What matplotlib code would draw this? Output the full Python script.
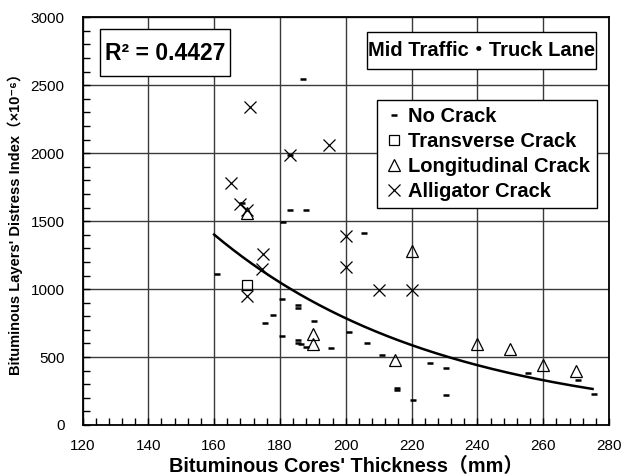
import numpy as np
import matplotlib
matplotlib.use('Agg')
import matplotlib.pyplot as plt
from matplotlib.patches import Rectangle
from matplotlib.ticker import MultipleLocator

plt.rcParams['font.family'] = ['Liberation Sans', 'DejaVu Sans', 'Noto Sans CJK JP']

# no crack points
no_crack_x = [187, 183, 188, 181, 168.5, 183, 205.5, 161, 180.5, 185.5, 185.5, 178,
              175.5, 190.5, 180.5, 185.5, 185.5, 186.5, 188, 195.5, 201, 206.5, 211,
              215.5, 215.5, 220.5, 225.5, 230.5, 230.5, 255.5, 270.5, 275.5]
no_crack_y = [2545, 1580, 1585, 1495, 1635, 1990, 1415, 1112, 928, 880, 863, 808,
              752, 767, 655, 625, 607, 595, 576, 568, 686, 600, 515,
              275, 255, 184, 458, 420, 222, 380, 331, 230]

trans_x = [170]
trans_y = [1030]

long_x = [170, 190, 190, 220, 215, 240, 250, 260, 270]
long_y = [1558, 667, 595, 1283, 475, 595, 558, 441, 399]

allig_x = [165, 171, 168, 170, 183, 195, 175, 174.5, 170, 200, 200, 210, 220]
allig_y = [1782, 2340, 1625, 1585, 1985, 2058, 1258, 1145, 950, 1390, 1165, 997, 995]

# exponential trendline
trend_a = 14190
trend_b = -0.01447
trend_range = (160, 275)
r2_text = 'R² = 0.4427'

fig = plt.figure(figsize=(6.22, 4.75), dpi=100)
ax = fig.add_axes([82.5/622, 1-425/475, (609-82.5)/622, (425-17.3)/475])

tx = np.linspace(trend_range[0], trend_range[1], 200)
ax.plot(tx, trend_a*np.exp(trend_b*tx), color='k', lw=1.8, zorder=3)

ax.plot(no_crack_x, no_crack_y, ls='none', marker='_', ms=5, mew=1.8, color='k',
        label='No Crack', zorder=4)
ax.plot(trans_x, trans_y, ls='none', marker='s', ms=7.5, mew=0.9, mfc='none', mec='k',
        label='Transverse Crack', zorder=4)
ax.plot(long_x, long_y, ls='none', marker='^', ms=8.5, mew=0.9, mfc='none', mec='k',
        label='Longitudinal Crack', zorder=4)
ax.plot(allig_x, allig_y, ls='none', marker='x', ms=8.5, mew=0.9, color='k',
        label='Alligator Crack', zorder=4)

ax.set_xlim(120, 280)
ax.set_ylim(0, 3000)
ax.xaxis.set_major_locator(MultipleLocator(20))
ax.xaxis.set_minor_locator(MultipleLocator(4))
ax.yaxis.set_major_locator(MultipleLocator(500))
ax.yaxis.set_minor_locator(MultipleLocator(100))
ax.tick_params(which='both', direction='in', top=False, right=False, labelsize=11)
ax.tick_params(which='major', length=5, width=1)
ax.tick_params(which='minor', length=5, width=1)
ax.tick_params(axis='y', pad=13)
ax.tick_params(axis='x', pad=10)
ax.grid(True, which='major', color='#3a3a3a', lw=1)
ax.set_axisbelow(True)
for s in ax.spines.values():
    s.set_linewidth(1.3)

ax.set_xlabel("Bituminous Cores' Thickness（mm）", fontsize=14.3, fontweight='bold', labelpad=3)
ax.set_ylabel("Bituminous Layers' Distress Index（×10⁻⁶）", fontsize=10.5, fontweight='bold',
              labelpad=5)

# R2 box
ax.add_patch(Rectangle((0.0332, 0.856), 0.2469, 0.1153, transform=ax.transAxes,
                       fc='white', ec='k', lw=1, zorder=5))
ax.text(0.1567, 0.912, r2_text, transform=ax.transAxes, ha='center', va='center',
        fontsize=16.5, fontweight='bold', zorder=6)

# lane box
ax.add_patch(Rectangle((0.5404, 0.8732), 0.4349, 0.0907, transform=ax.transAxes,
                       fc='white', ec='k', lw=1, zorder=5))
ax.text(0.7578, 0.9186, 'Mid Traffic・Truck Lane', transform=ax.transAxes, ha='center',
        va='center', fontsize=14.5, fontweight='bold', zorder=6)

leg = ax.legend(loc='upper right', bbox_to_anchor=(0.977, 0.797), frameon=True,
                fancybox=False, edgecolor='k', framealpha=1, borderaxespad=0,
                handlelength=1.0, handletextpad=0.2, labelspacing=0.3, borderpad=0.35,
                prop={'size': 14.5, 'weight': 'bold'})
leg.get_frame().set_linewidth(1)
leg.set_zorder(6)

fig.savefig('out.png', dpi=100)
